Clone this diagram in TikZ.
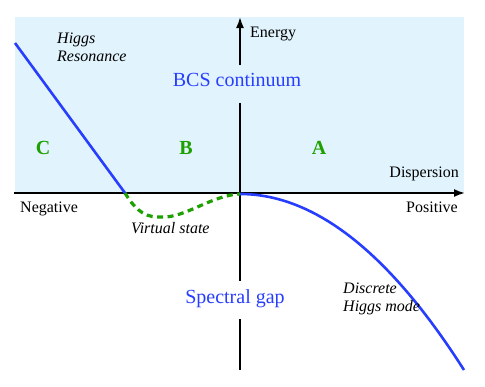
\documentclass[tikz,border=0pt]{standalone}
\usepackage{fontspec}
\setmainfont{Liberation Serif}
\usetikzlibrary{arrows.meta}
\definecolor{bgblue}{RGB}{225,243,252}
\definecolor{curveblue}{RGB}{40,62,255}
\definecolor{labgreen}{RGB}{30,160,0}
\tikzset{
  axis/.style={line width=1.8pt, draw=black},
  axisarrow/.style={-{Latex[length=11pt,width=8pt]}},
  bluecurve/.style={line width=2.6pt, draw=curveblue},
  greendash/.style={line width=3.2pt, draw=labgreen, dash pattern=on 6pt off 4.5pt},
  plainlab/.style={font=\fontsize{16}{18}\selectfont, inner sep=0pt},
  itlab/.style={font=\fontsize{16}{18}\selectfont\itshape, inner sep=0pt, align=left},
  bigblue/.style={font=\fontsize{20}{24}\selectfont, text=curveblue, inner sep=0pt,
     minimum height=38pt, text height=13.5pt},
  region/.style={font=\fontsize{20}{24}\selectfont\bfseries, text=labgreen, inner sep=0pt},
}
\begin{document}
\begin{tikzpicture}[x=1pt,y=-1pt]
\useasboundingbox (0,0) rectangle (485,386);
\fill[bgblue] (15,17) rectangle (464,193);

% axis coordinates
\coordinate (xl) at (14,193);
\coordinate (xr) at (465,193);
\coordinate (yb) at (240,370);
\coordinate (yt) at (240,17);
\coordinate (O) at (240,194);
\coordinate (Hs) at (15,43);
\coordinate (Hc) at (125,193);
\coordinate (Vm) at (162,217);
\coordinate (Dend) at (464,370);

\draw[axis, axisarrow] (xl) -- (xr);
\draw[axis, axisarrow] (yb) -- (yt);

% curves
\draw[greendash] (Hc) .. controls (137,213) and (148,218) .. (Vm)
   .. controls (185,218) and (212,195) .. (O);
\draw[bluecurve] (Hs) -- (Hc);
\draw[bluecurve] (O) .. controls (314.7,194) and (389.3,252.7) .. (Dend);

% labels on axis (fill hides axis)
\node[bigblue, fill=bgblue, text depth=8.5pt] (bcs) at (237,84) {BCS continuum};
\node[bigblue, fill=white, text depth=8pt, text height=14pt] (gap) at (235,300) {Spectral gap};

\node[plainlab, anchor=base west] (energy) at (250,37) {Energy};
\node[plainlab, anchor=base east] (disp) at (459,177) {Dispersion};
\node[plainlab, anchor=base west] (neg) at (20,212) {Negative};
\node[plainlab, anchor=base east] (pos) at (458,212) {Positive};

\node[itlab, anchor=base west] (higgs) at (57,61) {Higgs\\Resonance};
\node[itlab, anchor=base west] (virt) at (131,233) {Virtual state};
\node[itlab, anchor=base west] (disc) at (343,311) {Discrete\\Higgs mode};

\node[region, anchor=base] (C) at (43,154) {C};
\node[region, anchor=base] (B) at (186,154) {B};
\node[region, anchor=base] (A) at (319,154) {A};
\end{tikzpicture}
\end{document}
